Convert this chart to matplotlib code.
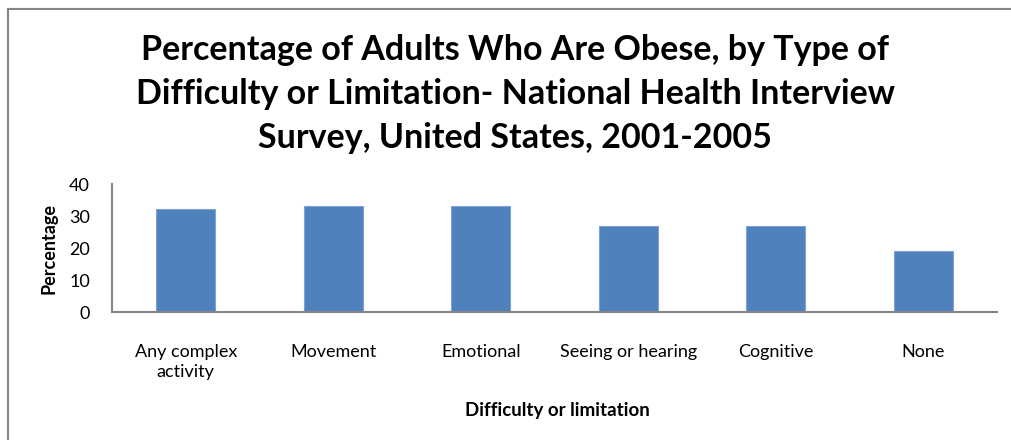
import matplotlib.pyplot as plt
import matplotlib.lines as mlines
import numpy as np

categories = ["Any complex\nactivity", "Movement", "Emotional",
              "Seeing or hearing", "Cognitive", "None"]
obese_pct = [32.3, 33.2, 33.2, 26.9, 26.9, 19.2]
y_ticks = [0, 10, 20, 30, 40]

title = ("Percentage of Adults Who Are Obese, by Type of\n"
         "Difficulty or Limitation- National Health Interview\n"
         "Survey, United States, 2001-2005")

plt.rcParams["font.family"] = ["Lato", "DejaVu Sans"]

fig = plt.figure(figsize=(10.11, 4.40), dpi=100)
ax = fig.add_axes([112 / 1011, 128 / 440, 885 / 1011, 128 / 440])

x = np.arange(len(categories))
ax.bar(x, obese_pct, width=0.4, color="#4F81BD", edgecolor="#7FA3D1", linewidth=0.8)

ax.set_xlim(-0.5, len(categories) - 0.5)
ax.set_ylim(0, 40)
ax.set_yticks(y_ticks)
ax.set_xticks(x)
ax.set_xticklabels(categories, fontsize=13, linespacing=1.35)
ax.tick_params(axis="both", length=0, colors="black")
ax.tick_params(axis="y", pad=16, labelsize=13)
ax.tick_params(axis="x", pad=23)

for side in ("top", "right"):
    ax.spines[side].set_visible(False)
for side in ("left", "bottom"):
    ax.spines[side].set_color("#868686")
    ax.spines[side].set_linewidth(1.5)

ax.set_ylabel("Percentage", fontsize=13, fontweight="bold", labelpad=8)
fig.text(557 / 1011, 1 - 410 / 440, "Difficulty or limitation",
         ha="center", va="center", fontsize=13.5, fontweight="bold")

fig.text(515 / 1011, 1 - 94 / 440, title, ha="center", va="center",
         fontsize=24.5, fontweight="bold", linespacing=1.45)

# chart-area border (only left and top edges fall inside the image)
fig.add_artist(mlines.Line2D([7.5 / 1011, 7.5 / 1011], [0, 1 - 9.5 / 440],
                             transform=fig.transFigure, color="#868686", lw=1.5))
fig.add_artist(mlines.Line2D([7.5 / 1011, 1], [1 - 9.5 / 440, 1 - 9.5 / 440],
                             transform=fig.transFigure, color="#868686", lw=1.5))

fig.savefig("out.png", dpi=100)
